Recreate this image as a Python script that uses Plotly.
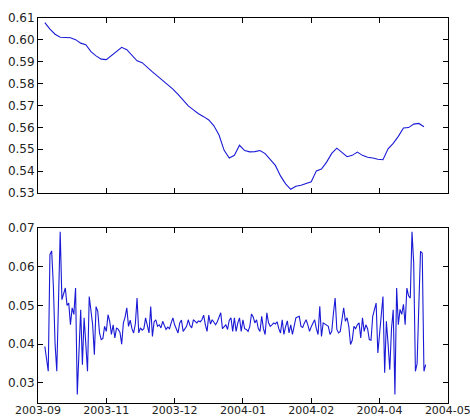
import pandas as pd
import plotly.graph_objects as go
from plotly.subplots import make_subplots

# ---- data ----
top_start = "2003-09-26"
top_step_days = 3
top_values = [
    0.6079, 0.6049, 0.6026, 0.6012, 0.6011, 0.6010, 0.6001, 0.5985, 0.5978, 0.5946,
    0.5927, 0.5912, 0.5910, 0.5930, 0.5948, 0.5966, 0.5955, 0.5931, 0.5904, 0.5896,
    0.5877, 0.5854, 0.5834, 0.5815, 0.5797, 0.5775, 0.5751, 0.5725, 0.5698, 0.5680,
    0.5662, 0.5649, 0.5634, 0.5607, 0.5565, 0.5495, 0.5460, 0.5472, 0.5518, 0.5494,
    0.5488, 0.5489, 0.5494, 0.5480, 0.5455, 0.5426, 0.5378, 0.5342, 0.5317, 0.5331,
    0.5335, 0.5342, 0.5351, 0.5401, 0.5409, 0.5441, 0.5481, 0.5505, 0.5486, 0.5466,
    0.5472, 0.5487, 0.5472, 0.5463, 0.5460, 0.5454, 0.5452, 0.5502, 0.5527, 0.5559,
    0.5597, 0.5599, 0.5615, 0.5618, 0.5603,
]

bottom_start = "2003-09-26"
bottom_values = [
    # 2003-09-26 onward, daily
    0.0394, 0.0360, 0.0330, 0.0631, 0.0641, 0.0550, 0.0400, 0.0330, 0.0520, 0.0690,
    0.0515, 0.0530, 0.0545, 0.0500, 0.0506, 0.0450, 0.0494, 0.0477, 0.0545, 0.0270,
    0.0400, 0.0489, 0.0347, 0.0468, 0.0400, 0.0330, 0.0523, 0.0480, 0.0450, 0.0373,
    0.0497, 0.0485, 0.0430, 0.0412, 0.0415, 0.0446, 0.0433, 0.0476, 0.0459, 0.0425,
    0.0450, 0.0416, 0.0442, 0.0438, 0.0430, 0.0400, 0.0455, 0.0470, 0.0494, 0.0446,
    0.0462, 0.0440, 0.0429, 0.0452, 0.0519, 0.0429, 0.0442, 0.0436, 0.0440, 0.0468,
    0.0445, 0.0429, 0.0497, 0.0420, 0.0458, 0.0463, 0.0446, 0.0450, 0.0442, 0.0459,
    0.0448, 0.0438, 0.0444, 0.0440, 0.0455, 0.0468, 0.0450, 0.0440, 0.0429, 0.0455,
    0.0462, 0.0433, 0.0440, 0.0446, 0.0463, 0.0448, 0.0442, 0.0463, 0.0459, 0.0455,
    0.0460, 0.0458, 0.0463, 0.0475, 0.0450, 0.0433, 0.0475, 0.0452, 0.0463, 0.0455,
    0.0450, 0.0458, 0.0470, 0.0481, 0.0440, 0.0445, 0.0450, 0.0438, 0.0462, 0.0468,
    0.0433, 0.0468, 0.0433, 0.0455, 0.0468, 0.0433, 0.0463, 0.0440, 0.0438, 0.0433,
    0.0445, 0.0478, 0.0470, 0.0455, 0.0463, 0.0440, 0.0433, 0.0472, 0.0440, 0.0425,
    0.0481, 0.0455, 0.0446, 0.0450, 0.0455, 0.0452, 0.0458, 0.0440, 0.0429, 0.0463,
    0.0425, 0.0445, 0.0460, 0.0429, 0.0450, 0.0425, 0.0445, 0.0468, 0.0470, 0.0472,
    0.0446, 0.0443, 0.0455, 0.0463, 0.0450, 0.0433, 0.0445, 0.0455, 0.0463, 0.0440,
    0.0425, 0.0498, 0.0420, 0.0455, 0.0452, 0.0448, 0.0446, 0.0425, 0.0433, 0.0480,
    0.0519, 0.0438, 0.0429, 0.0433, 0.0460, 0.0494, 0.0459, 0.0468, 0.0446, 0.0399,
    0.0410, 0.0446, 0.0440, 0.0450, 0.0455, 0.0416, 0.0468, 0.0433, 0.0450, 0.0440,
    0.0412, 0.0410, 0.0472, 0.0490, 0.0506, 0.0377, 0.0430, 0.0480, 0.0523, 0.0326,
    0.0459, 0.0400, 0.0334, 0.0440, 0.0489, 0.0270, 0.0545, 0.0450, 0.0490, 0.0477,
    0.0503, 0.0450, 0.0545, 0.0525, 0.0519, 0.0690, 0.0610, 0.0330, 0.0350, 0.0500,
    0.0640, 0.0635, 0.0330, 0.0347,
]

tick_start = "2003-09-22"
tick_step_days = 40
tick_count = 7
x_range = ["2003-09-22", "2004-05-19 02:00"]
top_y_range = [0.53, 0.61]
bottom_y_range = [0.0248, 0.07]

# ---- build ----
top_dates = pd.date_range(top_start, periods=len(top_values), freq=f"{top_step_days}D")
bottom_dates = pd.date_range(bottom_start, periods=len(bottom_values), freq="D")
tick_vals = pd.date_range(tick_start, periods=tick_count, freq=f"{tick_step_days}D")
tick_text = [d.strftime("%Y-%m") for d in tick_vals]

fig = make_subplots(rows=2, cols=1, vertical_spacing=0.0909)
line = dict(color="#1a1ad6", width=1.1)
fig.add_trace(go.Scatter(x=top_dates, y=top_values, mode="lines", line=line,
                         showlegend=False), row=1, col=1)
fig.add_trace(go.Scatter(x=bottom_dates, y=bottom_values, mode="lines", line=line,
                         showlegend=False), row=2, col=1)

axis_common = dict(showline=True, linecolor="black", linewidth=1, mirror="allticks",
                   ticks="inside", ticklen=5, tickcolor="black", tickwidth=1,
                   showgrid=False, zeroline=False)

fig.update_xaxes(type="date", range=x_range, tickmode="array", tickvals=tick_vals,
                 ticktext=tick_text, ticklabeloverflow="allow", ticklabelstandoff=-3,
                 tickfont=dict(family="DejaVu Sans", size=11, color="#222222"),
                 **axis_common)
fig.update_xaxes(showticklabels=False, row=1, col=1)
yfont = dict(family="DejaVu Sans", size=12, color="#222222")
fig.update_yaxes(range=top_y_range, dtick=0.01, tick0=0.53, tickformat=".2f",
                 tickfont=yfont, row=1, col=1, **axis_common)
fig.update_yaxes(range=bottom_y_range, dtick=0.01, tick0=0.03, tickformat=".2f",
                 tickfont=yfont, row=2, col=1, **axis_common)

fig.update_layout(
    width=470, height=419,
    margin=dict(l=38, r=22, t=18, b=16, autoexpand=False),
    paper_bgcolor="white", plot_bgcolor="white",
)
fig.layout.yaxis.domain = [0.5455, 1.0]
fig.layout.yaxis2.domain = [0.0, 0.4545]

fig.write_html("out.html")
